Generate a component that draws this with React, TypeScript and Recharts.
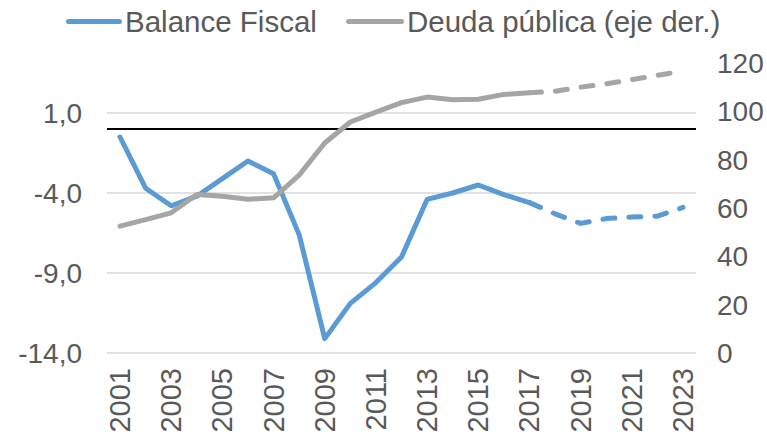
import React from 'react';
import { LineChart, Line, XAxis, YAxis, ReferenceLine } from 'recharts';

const years = ['2001', '2002', '2003', '2004', '2005', '2006', '2007', '2008', '2009', '2010', '2011', '2012',
    '2013', '2014', '2015', '2016', '2017', '2018', '2019', '2020', '2021', '2022', '2023'];

// Balance Fiscal (% PIB, eje izq.)
const balanceFiscal = [-0.5, -3.7, -4.8, -4.2, -3.1, -2.0, -2.8, -6.6, -13.1, -10.9, -9.6, -8.0,
    -4.4, -4.0, -3.5, -4.1, -4.6, -5.3, -5.9, -5.6, -5.5, -5.45, -4.9];

// Deuda pública (% PIB, eje der.)
const deudaPublica = [52.5, 55.2, 58.0, 65.6, 64.9, 63.6, 64.2, 73.6, 86.9, 95.6, 99.7, 103.6,
    105.9, 104.8, 105.0, 107.0, 107.7, 108.3, 110.0, 111.4, 113.1, 114.9, 116.7];

// last observed year; from here on the lines are projections (dashed)
const lastActual = 16;

const leftTicks = [-14, -9, -4, 1];
const rightTicks = [0, 20, 40, 60, 80, 100, 120];

const BLUE = '#5B9BD5';
const GRAY = '#A5A5A5';
const TEXT = '#595959';
const FONT = '"Liberation Sans", Arial, sans-serif';

const data = years.map((year, i) => ({
    year,
    balance: i <= lastActual ? balanceFiscal[i] : null,
    balanceProj: i >= lastActual ? balanceFiscal[i] : null,
    deuda: i <= lastActual ? deudaPublica[i] : null,
    deudaProj: i >= lastActual ? deudaPublica[i] : null,
}));

const YearTick = ({ x, y, payload }: any) => (
    <text
        x={x}
        y={y + 13}
        transform={`rotate(-90, ${x}, ${y + 13})`}
        textAnchor="end"
        dominantBaseline="central"
        fill={TEXT}
        fontSize={29}
        fontFamily={FONT}
    >
        {payload.value}
    </text>
);

export default function App() {
    return (
        <div style={{ position: 'absolute', left: 0, top: 0, width: 767, height: 436, background: '#fff' }}>
            {/* legend */}
            <div style={{ position: 'absolute', left: 0, top: 0, width: 767, height: 44, fontFamily: FONT, fontSize: 29.5, color: TEXT }}>
                <div style={{ position: 'absolute', left: 66, top: 19, width: 56, height: 5, borderRadius: 3, background: BLUE }} />
                <div style={{ position: 'absolute', left: 125, top: 4, lineHeight: '36px' }}>Balance Fiscal</div>
                <div style={{ position: 'absolute', left: 346, top: 19, width: 58, height: 5, borderRadius: 3, background: GRAY }} />
                <div style={{ position: 'absolute', left: 407, top: 4, lineHeight: '36px' }}>Deuda pública (eje der.)</div>
            </div>

            <LineChart width={767} height={436} data={data} margin={{ top: 63, right: 0, bottom: 0, left: 0 }}>
                <XAxis
                    dataKey="year"
                    interval={1}
                    height={83}
                    padding={{ left: 13, right: 13 }}
                    axisLine={false}
                    tickLine={false}
                    tickSize={0}
                    tick={<YearTick />}
                />
                <YAxis
                    yAxisId="left"
                    width={107}
                    domain={[-14, 4.125]}
                    ticks={leftTicks}
                    allowDataOverflow
                    axisLine={false}
                    tickLine={false}
                    tickSize={0}
                    tickMargin={25}
                    tickFormatter={(v: number) => v.toFixed(1).replace('.', ',')}
                    tick={{ fill: TEXT, fontSize: 28, fontFamily: FONT }}
                />
                <YAxis
                    yAxisId="right"
                    orientation="right"
                    width={71}
                    domain={[0, 120]}
                    ticks={rightTicks}
                    axisLine={false}
                    tickLine={false}
                    tickSize={0}
                    tickMargin={21}
                    tick={{ fill: TEXT, fontSize: 28, fontFamily: FONT }}
                />
                {/* horizontal gridlines at the left-axis ticks */}
                {leftTicks.map((t) => (
                    <ReferenceLine key={t} yAxisId="left" y={t} stroke="#D9D9D9" strokeWidth={1.3} />
                ))}
                <ReferenceLine yAxisId="left" y={0} stroke="#000" strokeWidth={2} />

                <Line yAxisId="left" type="linear" dataKey="balance" stroke={BLUE} strokeWidth={5}
                    strokeLinecap="round" strokeLinejoin="round" dot={false} activeDot={false} isAnimationActive={false} />
                <Line yAxisId="left" type="linear" dataKey="balanceProj" stroke={BLUE} strokeWidth={5} strokeDasharray="12 14"
                    strokeLinecap="round" strokeLinejoin="round" dot={false} activeDot={false} isAnimationActive={false} />
                <Line yAxisId="right" type="linear" dataKey="deuda" stroke={GRAY} strokeWidth={5}
                    strokeLinecap="round" strokeLinejoin="round" dot={false} activeDot={false} isAnimationActive={false} />
                <Line yAxisId="right" type="linear" dataKey="deudaProj" stroke={GRAY} strokeWidth={5} strokeDasharray="12 14"
                    strokeLinecap="round" strokeLinejoin="round" dot={false} activeDot={false} isAnimationActive={false} />
            </LineChart>
        </div>
    );
}
